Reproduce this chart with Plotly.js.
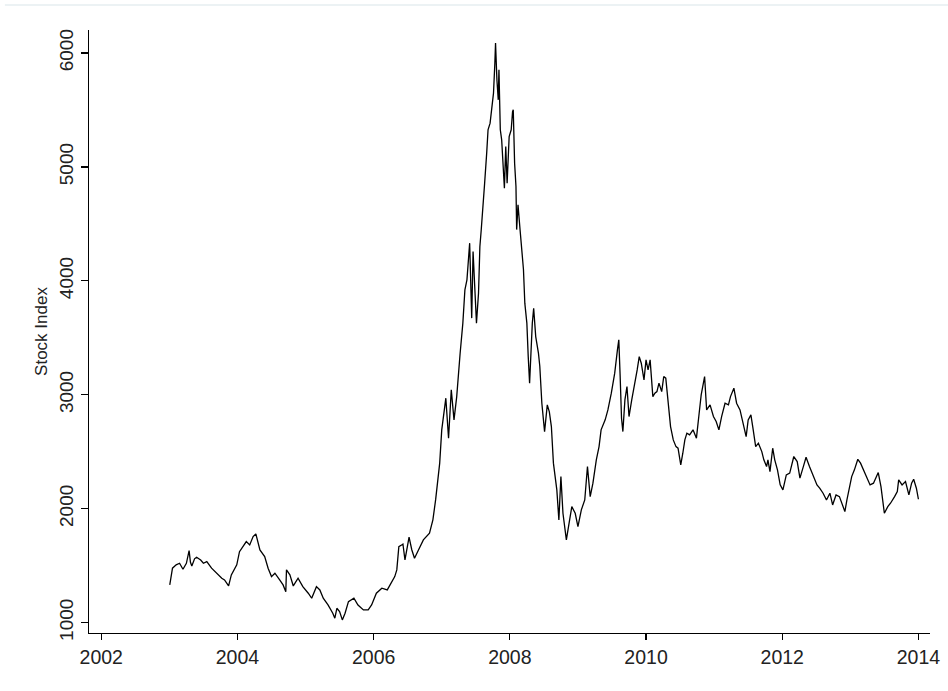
<!DOCTYPE html>
<html>
<head>
<meta charset="utf-8">
<script src="https://cdn.plot.ly/plotly-3.0.1.min.js"></script>
<style>html,body{margin:0;padding:0;background:#fff;}#chart{width:948px;height:691px;}</style>
</head>
<body>
<div id="chart"></div>
<script>
const years = [
2003.006,2003.03,2003.046,2003.10,2003.15,2003.20,2003.25,2003.29,2003.31,2003.33,2003.37,2003.40,2003.46,2003.50,2003.55,2003.62,2003.69,2003.77,2003.81,2003.87,2003.91,2003.99,
2004.03,2004.09,2004.13,2004.18,2004.23,2004.27,2004.33,2004.40,2004.45,2004.50,2004.55,2004.62,2004.67,2004.71,2004.72,2004.77,2004.82,2004.89,2004.96,
2005.04,2005.09,2005.16,2005.21,2005.26,2005.33,2005.40,2005.43,2005.46,2005.50,2005.54,2005.58,2005.63,2005.71,2005.77,2005.85,2005.92,2005.97,
2006.04,2006.12,2006.20,2006.26,2006.31,2006.34,2006.37,2006.41,2006.43,2006.46,2006.52,2006.56,2006.60,2006.66,2006.73,2006.82,2006.87,2006.91,2006.97,
2007.00,2007.06,2007.10,2007.14,2007.18,2007.22,2007.27,2007.31,2007.34,2007.37,2007.41,2007.44,2007.46,2007.51,2007.54,2007.56,2007.58,2007.61,2007.63,2007.66,2007.68,2007.71,2007.73,2007.76,2007.78,2007.79,2007.81,2007.83,2007.84,2007.86,2007.88,2007.90,2007.92,2007.94,2007.96,2007.99,
2008.02,2008.04,2008.05,2008.07,2008.09,2008.10,2008.12,2008.15,2008.17,2008.20,2008.22,2008.25,2008.27,2008.29,2008.33,2008.35,2008.38,2008.42,2008.44,2008.47,2008.51,2008.55,2008.58,2008.61,2008.64,2008.67,2008.69,2008.72,2008.75,2008.78,2008.83,2008.87,2008.91,2008.96,
2009.00,2009.05,2009.10,2009.14,2009.18,2009.22,2009.27,2009.31,2009.34,2009.40,2009.44,2009.49,2009.54,2009.58,2009.60,2009.62,2009.64,2009.66,2009.69,2009.72,2009.75,2009.79,2009.84,2009.87,2009.90,2009.93,2009.97,
2010.00,2010.03,2010.06,2010.10,2010.13,2010.16,2010.19,2010.23,2010.26,2010.29,2010.33,2010.36,2010.40,2010.44,2010.47,2010.51,2010.54,2010.57,2010.60,2010.64,2010.69,2010.74,2010.78,2010.81,2010.86,2010.89,2010.94,2010.99,
2011.03,2011.07,2011.11,2011.16,2011.21,2011.24,2011.29,2011.33,2011.38,2011.43,2011.47,2011.50,2011.54,2011.57,2011.61,2011.65,2011.70,2011.73,2011.77,2011.79,2011.82,2011.86,2011.89,2011.93,2011.97,
2012.01,2012.06,2012.11,2012.17,2012.22,2012.26,2012.31,2012.35,2012.40,2012.45,2012.51,2012.55,2012.60,2012.65,2012.70,2012.74,2012.79,2012.84,2012.89,2012.92,2012.95,2012.98,
2013.02,2013.06,2013.11,2013.15,2013.19,2013.24,2013.29,2013.34,2013.38,2013.41,2013.45,2013.48,2013.50,2013.55,2013.59,2013.65,2013.69,2013.71,2013.76,2013.81,2013.86,2013.90,2013.93,2013.97,2014.00
];
const stockIndex = [
1331,1420,1478,1507,1521,1469,1521,1632,1530,1498,1560,1574,1550,1521,1536,1478,1434,1390,1375,1322,1419,1507,
1623,1682,1711,1682,1755,1779,1638,1580,1478,1404,1434,1375,1331,1272,1463,1419,1322,1390,1316,
1258,1214,1316,1287,1214,1155,1083,1039,1126,1097,1024,1083,1184,1214,1155,1112,1112,1155,
1258,1302,1287,1346,1404,1463,1667,1682,1690,1550,1750,1640,1565,1640,1726,1785,1902,2077,2400,
2692,2970,2619,3043,2780,2984,3365,3629,3921,4009,4331,3673,4257,3629,3892,4301,4448,4652,4858,5121,5326,5384,5472,5648,5911,6087,5765,5589,5853,5326,5238,5004,4814,5179,4858,5267,
5326,5486,5501,5033,4828,4450,4667,4448,4300,4100,3804,3629,3335,3102,3629,3760,3511,3365,3250,2926,2677,2911,2850,2721,2400,2250,2165,1902,2282,1960,1726,1873,2018,1960,
1843,1990,2077,2370,2106,2224,2429,2545,2692,2780,2867,3014,3190,3394,3482,3160,2794,2677,2955,3072,2809,2955,3102,3218,3335,3277,3131,
3306,3218,3306,2984,3014,3028,3102,3028,3160,3146,2926,2721,2604,2545,2531,2385,2487,2604,2663,2648,2692,2619,2838,2999,3160,2867,2911,2809,
2765,2692,2809,2926,2911,2984,3058,2926,2867,2750,2633,2780,2824,2707,2545,2575,2501,2429,2370,2429,2326,2531,2429,2341,2209,
2165,2297,2312,2458,2414,2268,2370,2452,2370,2297,2209,2180,2136,2077,2136,2033,2121,2106,2018,1975,2077,2180,
2282,2341,2434,2400,2341,2282,2209,2224,2282,2317,2194,2077,1960,2018,2048,2106,2150,2253,2209,2238,2121,2224,2259,2180,2083
];
const xTicks = [2002, 2004, 2006, 2008, 2010, 2012, 2014];
const yTicks = [1000, 2000, 3000, 4000, 5000, 6000];

const trace = {
  x: years, y: stockIndex, type: 'scatter', mode: 'lines',
  line: {color: '#000000', width: 1.3},
  hoverinfo: 'skip'
};
const fam = 'Liberation Sans, Arial, sans-serif';
const txt = '#222222';
const layout = {
  width: 948, height: 691,
  margin: {l: 89, r: 18, t: 30, b: 58},
  paper_bgcolor: '#ffffff', plot_bgcolor: '#ffffff',
  showlegend: false,
  font: {family: fam, color: txt},
  xaxis: {
    range: [2001.82, 2014.17], tickvals: xTicks, ticktext: xTicks.map(String),
    showgrid: false, zeroline: false, showline: true, linecolor: '#000', linewidth: 1.3,
    ticks: 'outside', ticklen: 6, tickwidth: 1.2, tickcolor: '#000',
    tickfont: {family: fam, size: 19.5, color: txt}
  },
  yaxis: {
    range: [909, 6202], tickvals: yTicks, ticktext: yTicks.map(String),
    showgrid: false, zeroline: false, showline: true, linecolor: '#000', linewidth: 1.3,
    ticks: 'outside', ticklen: 7, tickwidth: 1.2, tickcolor: '#000', tickangle: -90,
    tickfont: {family: fam, size: 19, color: txt},
    title: {text: 'Stock Index', font: {family: fam, size: 17, color: txt}, standoff: 4}
  },
  shapes: [{type: 'line', xref: 'paper', yref: 'paper', x0: -0.1, x1: 1.03, y0: 1.0 + 25/603, y1: 1.0 + 25/603,
    line: {color: '#e6eef0', width: 1.5}}]
};
Plotly.newPlot('chart', [trace], layout, {displayModeBar: false, staticPlot: true});
</script>
</body>
</html>
